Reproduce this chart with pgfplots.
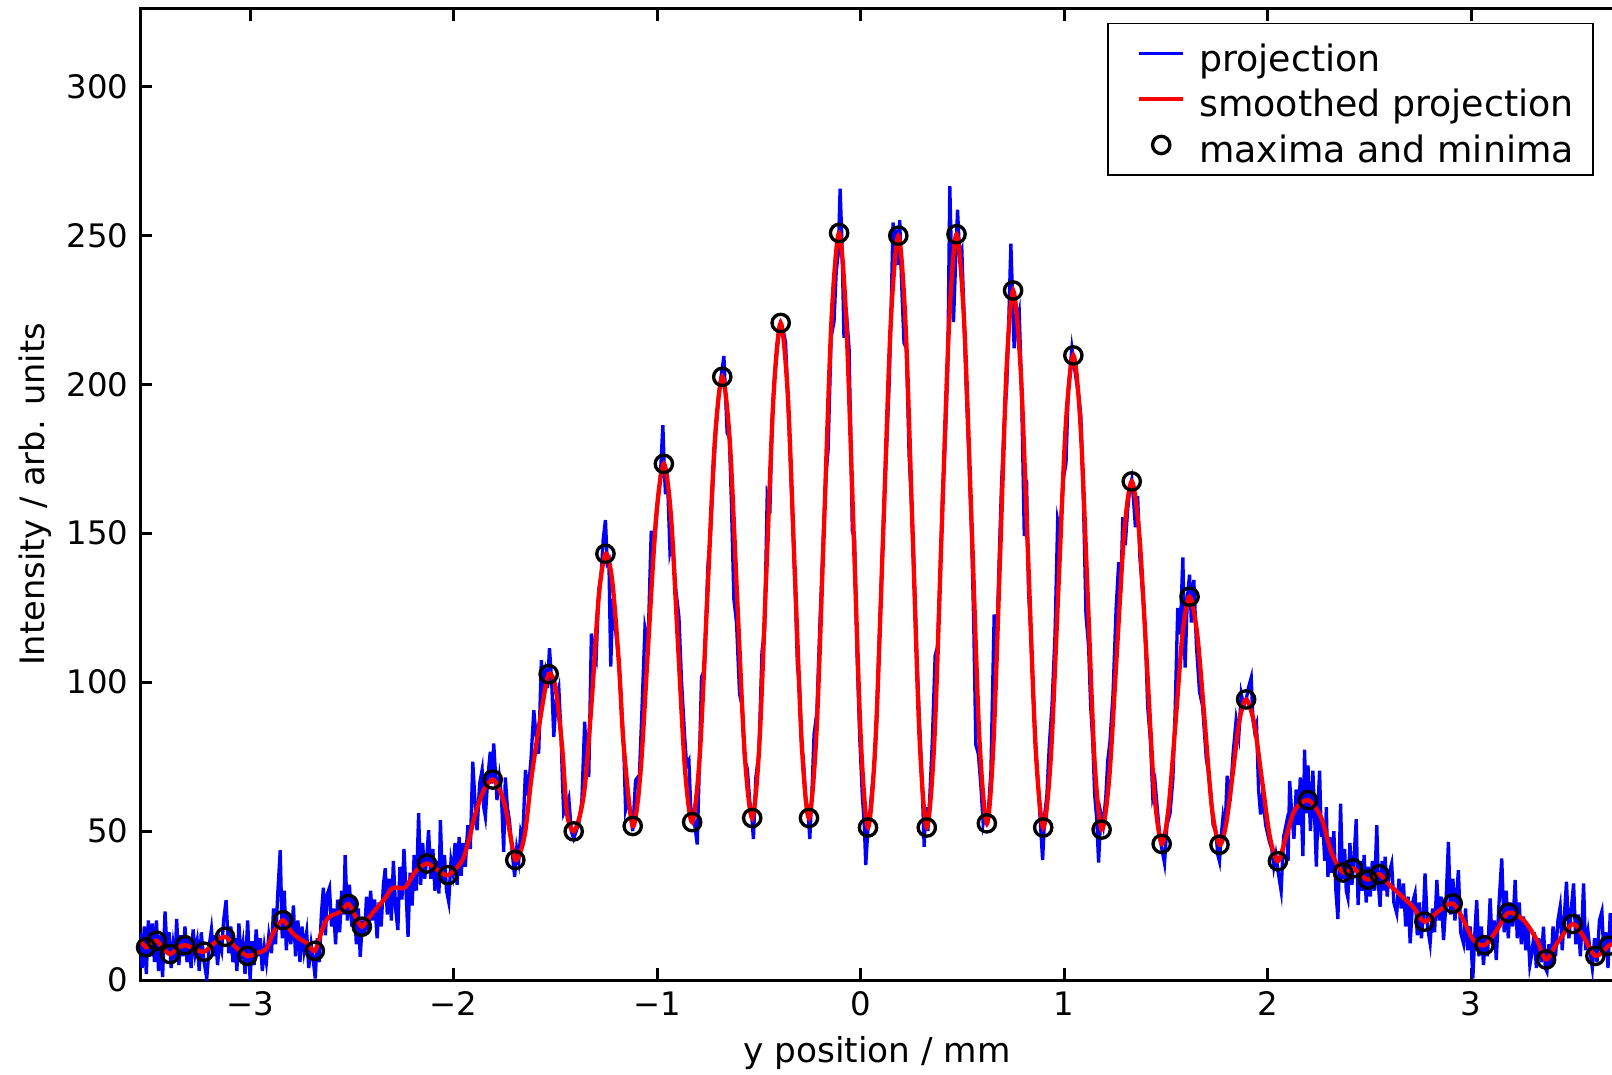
\documentclass[border=0pt]{standalone}
\usepackage{fontspec}
\setmainfont{DejaVu Sans}
\usepackage{pgfplots}
\pgfplotsset{compat=1.18}
\definecolor{mblue}{RGB}{0,0,255}
\definecolor{mred}{RGB}{255,0,0}
\begin{document}
\begin{tikzpicture}
\begin{axis}[
  scale only axis,
  width=442.1pt, height=291.3pt,
  xmin=-3.541, xmax=3.70, ymin=0, ymax=326,
  axis line style={line width=0.9pt},
  every tick/.style={line width=0.9pt, black},
  major tick length=3.6pt,
  tick align=inside,
  ytick pos=left,
  xtick={-3,-2,-1,0,1,2,3},
  xticklabels={−3,−2,−1,0,1,2,3},
  ytick={0,50,100,150,200,250,300},
  yticklabels={0,50,100,150,200,250,300},
  tick label style={font=\fontsize{9.7pt}{11pt}\selectfont},
  xlabel={y position / mm},
  ylabel={Intensity / arb. units},
  xlabel style={at={([yshift=-21.9pt]axis description cs:0.5,0)}, anchor=center, font=\fontsize{10.3pt}{12pt}\selectfont},
  ylabel style={at={([xshift=-31.5pt]axis description cs:0,0.5)}, anchor=center, font=\fontsize{10.1pt}{12pt}\selectfont},
  legend style={at={(rel axis cs:1,1)}, anchor=north east, xshift=-6pt, yshift=-4.1pt,
    draw=black, line width=0.5pt, inner xsep=5.7pt, inner ysep=2.2pt,
    font=\fontsize{10.9pt}{12pt}\selectfont, cells={anchor=west},
    nodes={inner xsep=0pt, inner ysep=1.6pt, text height=10.5pt, text depth=0pt}},
  legend image code/.code={\path[draw=none] (0pt,0pt) -- (21.75pt,0pt); \draw[#1] (3.55pt,0pt) -- (16.8pt,0pt);},
]
\addplot[mblue, line width=1.0pt] table[row sep=\\] {x y\\
-3.541 16\\ -3.530 4\\ -3.520 18\\ -3.510 2\\ -3.500 20\\ -3.490 8\\ -3.480 19\\ -3.470 6\\ -3.460 20\\ -3.450 3\\
-3.440 15\\ -3.430 1\\ -3.418 23\\ -3.408 10\\ -3.398 16\\ -3.388 4\\ -3.378 12\\ -3.368 7\\ -3.361 20.5\\ -3.350 5\\
-3.340 15\\ -3.330 8\\ -3.320 18\\ -3.310 6\\ -3.300 14\\ -3.290 4\\ -3.280 17\\ -3.270 9\\ -3.260 13\\ -3.250 3\\
-3.240 16\\ -3.228 7\\ -3.213 0.5\\ -3.200 12\\ -3.190 17\\ -3.180 8\\ -3.170 15\\ -3.160 5\\ -3.150 13\\ -3.140 10\\
-3.130 20\\ -3.118 26.8\\ -3.105 9\\ -3.095 18\\ -3.085 6\\ -3.075 14\\ -3.065 3\\ -3.055 19\\ -3.045 7\\ -3.035 12\\
-3.025 2\\ -3.012 20\\ -3.000 0\\ -2.990 13\\ -2.980 5\\ -2.970 17\\ -2.960 8\\ -2.950 14\\ -2.940 3\\ -2.930 11\\
-2.920 6\\ -2.908 15\\ -2.895 9\\ -2.885 24\\ -2.875 12\\ -2.865 28\\ -2.852 43.6\\ -2.842 14\\ -2.832 30\\ -2.822 10\\
-2.812 22\\ -2.800 12\\ -2.787 25\\ -2.777 8\\ -2.765 20\\ -2.755 6\\ -2.745 18\\ -2.735 10\\ -2.722 16\\ -2.712 4\\
-2.700 12\\ -2.690 7\\ -2.680 0.5\\ -2.670 14\\ -2.660 6\\ -2.650 22\\ -2.640 31\\ -2.630 15\\ -2.620 29\\ -2.610 31\\
-2.600 18\\ -2.590 24\\ -2.580 12\\ -2.570 27\\ -2.560 16\\ -2.550 30\\ -2.540 22\\ -2.533 41.9\\ -2.522 20\\ -2.512 32\\
-2.500 18\\ -2.490 28\\ -2.478 12\\ -2.468 24\\ -2.459 7.8\\ -2.448 20\\ -2.438 15\\ -2.428 28\\ -2.418 16\\ -2.408 30\\
-2.398 20\\ -2.388 27\\ -2.376 14\\ -2.366 26\\ -2.356 18\\ -2.345 32\\ -2.336 37.5\\ -2.326 22\\ -2.316 34\\ -2.306 20\\
-2.296 40\\ -2.285 24\\ -2.274 16.8\\ -2.264 38\\ -2.254 27\\ -2.244 44\\ -2.234 30\\ -2.224 14.5\\ -2.214 36\\ -2.204 25\\
-2.194 42\\ -2.183 30\\ -2.172 56\\ -2.162 32\\ -2.152 46\\ -2.142 34\\ -2.132 41\\ -2.123 50.3\\ -2.112 34\\ -2.102 44\\
-2.092 30\\ -2.082 40\\ -2.072 29\\ -2.065 53.7\\ -2.055 33\\ -2.045 42\\ -2.035 30\\ -2.024 26.2\\ -2.013 40\\ -2.003 36\\
-1.993 46\\ -1.983 32\\ -1.973 48\\ -1.963 35\\ -1.953 46\\ -1.943 38\\ -1.930 52\\ -1.918 44\\ -1.906 73.3\\ -1.895 60\\
-1.885 50.3\\ -1.872 66\\ -1.860 70.5\\ -1.852 58\\ -1.844 54.8\\ -1.832 68\\ -1.820 76.6\\ -1.812 66\\ -1.803 79.4\\ -1.795 70\\
-1.787 60.4\\ -1.775 68\\ -1.765 62\\ -1.754 43\\ -1.746 68\\ -1.736 58\\ -1.726 53.7\\ -1.716 46\\ -1.708 40\\ -1.700 34.6\\
-1.690 44\\ -1.680 40\\ -1.670 50\\ -1.660 48\\ -1.647 70.5\\ -1.635 62\\ -1.620 74\\ -1.606 90.6\\ -1.595 82\\ -1.582 76\\
-1.569 107.4\\ -1.559 98\\ -1.549 103\\ -1.539 98\\ -1.529 111.4\\ -1.518 100\\ -1.508 81.6\\ -1.496 94\\ -1.483 97.9\\ -1.472 82\\
-1.465 66\\ -1.459 56\\ -1.447 58\\ -1.434 61\\ -1.422 50\\ -1.410 47.5\\ -1.398 50\\ -1.385 52.5\\ -1.370 60\\ -1.356 86.7\\
-1.346 72\\ -1.336 68.2\\ -1.323 116.3\\ -1.312 110\\ -1.300 107.4\\ -1.287 130.8\\ -1.275 136\\ -1.265 148\\ -1.254 154.4\\ -1.245 140\\
-1.237 141\\ -1.228 105.2\\ -1.218 128\\ -1.205 118\\ -1.188 107.4\\ -1.172 88\\ -1.164 78\\ -1.155 57\\ -1.143 60\\ -1.131 56\\
-1.120 50\\ -1.106 67\\ -1.101 67.5\\ -1.090 64\\ -1.075 90\\ -1.060 118\\ -1.045 112\\ -1.029 150.8\\ -1.015 145\\ -1.000 158\\
-0.985 168\\ -0.972 186.3\\ -0.965 172\\ -0.959 163.1\\ -0.950 170\\ -0.937 143.9\\ -0.925 148\\ -0.910 132\\ -0.893 122\\ -0.880 100\\
-0.865 82\\ -0.855 72\\ -0.844 73.6\\ -0.835 58\\ -0.825 56\\ -0.815 52\\ -0.803 45.5\\ -0.795 66\\ -0.782 101.7\\ -0.768 104\\
-0.751 138.5\\ -0.738 150\\ -0.725 168\\ -0.712 184\\ -0.698 196\\ -0.685 203\\ -0.672 209.5\\ -0.665 198\\ -0.656 183.7\\ -0.645 182\\
-0.635 160\\ -0.623 127.9\\ -0.610 120\\ -0.595 96\\ -0.582 92\\ -0.570 74\\ -0.557 70.9\\ -0.545 60\\ -0.535 55\\ -0.527 47.3\\
-0.515 68\\ -0.500 76\\ -0.485 110\\ -0.472 118\\ -0.459 163.1\\ -0.445 160\\ -0.435 188\\ -0.423 202.5\\ -0.410 212\\ -0.395 220\\
-0.380 218\\ -0.369 214\\ -0.358 196\\ -0.346 176\\ -0.336 157.8\\ -0.322 132\\ -0.311 106.1\\ -0.300 98\\ -0.290 78\\ -0.282 74.5\\
-0.270 60\\ -0.260 58\\ -0.250 47.3\\ -0.240 62\\ -0.229 82.4\\ -0.215 90\\ -0.200 120\\ -0.183 149\\ -0.170 170\\ -0.160 178\\
-0.145 216\\ -0.131 220.9\\ -0.120 238\\ -0.110 244\\ -0.101 265.7\\ -0.092 248\\ -0.082 215.6\\ -0.070 224\\ -0.057 212.1\\ -0.048 180\\
-0.041 150.8\\ -0.030 148\\ -0.018 110\\ -0.005 82\\ 0.008 62\\ 0.018 52\\ 0.025 38.6\\ 0.035 50\\ 0.045 56\\ 0.055 64\\
0.067 72\\ 0.079 87.7\\ 0.090 112\\ 0.102 134\\ 0.115 160\\ 0.128 180\\ 0.140 200\\ 0.150 226\\ 0.159 254.3\\ 0.168 246\\
0.175 252\\ 0.183 240\\ 0.192 255.1\\ 0.200 236\\ 0.213 213.9\\ 0.225 212\\ 0.238 176\\ 0.250 160\\ 0.262 138\\ 0.275 110\\
0.288 88\\ 0.300 70\\ 0.312 44.7\\ 0.320 58\\ 0.330 50\\ 0.340 62\\ 0.352 80\\ 0.366 108.9\\ 0.378 112\\ 0.390 134\\
0.402 162\\ 0.415 180\\ 0.428 206\\ 0.438 266.5\\ 0.447 240\\ 0.456 220.9\\ 0.466 240\\ 0.476 258.6\\ 0.486 244\\ 0.497 245.5\\
0.508 222\\ 0.520 196\\ 0.532 176\\ 0.545 150\\ 0.556 118\\ 0.566 78.9\\ 0.578 76\\ 0.590 66\\ 0.602 52.6\\ 0.612 56\\
0.625 54\\ 0.640 70\\ 0.656 122.7\\ 0.668 110\\ 0.680 140\\ 0.692 166\\ 0.705 186\\ 0.718 200\\ 0.728 222\\ 0.738 247.2\\
0.746 230\\ 0.754 212.1\\ 0.765 220\\ 0.779 224.4\\ 0.790 200\\ 0.804 149\\ 0.815 168\\ 0.825 130\\ 0.835 118\\ 0.845 101.7\\
0.858 80\\ 0.870 68\\ 0.882 54\\ 0.894 40.3\\ 0.905 56\\ 0.915 62\\ 0.927 78.9\\ 0.940 92\\ 0.955 116\\ 0.968 154.3\\
0.980 150\\ 0.995 168\\ 1.009 173.6\\ 1.020 198\\ 1.030 206\\ 1.038 212.1\\ 1.050 206\\ 1.062 200\\ 1.072 196\\ 1.082 189.3\\
1.095 160\\ 1.107 122.7\\ 1.120 112\\ 1.130 92\\ 1.140 80.6\\ 1.150 62\\ 1.160 54\\ 1.169 39.4\\ 1.180 56\\ 1.192 52\\
1.205 62\\ 1.214 73.6\\ 1.225 80\\ 1.240 96\\ 1.255 124.5\\ 1.268 140.3\\ 1.278 130\\ 1.288 155.4\\ 1.300 146\\ 1.312 158\\
1.322 165\\ 1.332 168\\ 1.342 160\\ 1.350 152\\ 1.361 162.4\\ 1.372 142\\ 1.385 130\\ 1.398 118\\ 1.410 92\\ 1.424 80.3\\
1.435 62\\ 1.447 66\\ 1.460 55.6\\ 1.470 48\\ 1.480 44\\ 1.493 39.2\\ 1.505 52\\ 1.520 56\\ 1.534 67.4\\ 1.545 90\\
1.558 124.9\\ 1.570 116\\ 1.583 141.9\\ 1.594 104.9\\ 1.605 128\\ 1.616 136.1\\ 1.625 120\\ 1.637 134.3\\ 1.650 112\\ 1.665 96.7\\
1.680 92\\ 1.698 74.5\\ 1.708 70\\ 1.719 63.9\\ 1.732 52\\ 1.745 50\\ 1.755 42\\ 1.763 39.8\\ 1.771 48\\ 1.780 54.5\\
1.790 50\\ 1.801 68.6\\ 1.815 60\\ 1.830 76\\ 1.845 87.4\\ 1.858 82\\ 1.870 96\\ 1.882 92\\ 1.894 94\\ 1.905 98\\
1.919 101.5\\ 1.927 88\\ 1.935 83.9\\ 1.945 86\\ 1.955 64\\ 1.965 55.6\\ 1.975 62\\ 1.990 52\\ 2.009 46.3\\ 2.020 44\\
2.030 38\\ 2.040 42\\ 2.052 36\\ 2.066 29.9\\ 2.078 48\\ 2.090 52\\ 2.100 40\\ 2.108 66.8\\ 2.118 56\\ 2.129 47.4\\
2.140 64\\ 2.150 52\\ 2.160 68\\ 2.173 41.6\\ 2.181 77.3\\ 2.190 56\\ 2.198 72\\ 2.210 50\\ 2.222 70.3\\ 2.232 52\\
2.239 38.1\\ 2.248 60\\ 2.255 70.3\\ 2.263 48\\ 2.271 52.2\\ 2.280 40\\ 2.288 58\\ 2.296 34.6\\ 2.305 48\\ 2.315 36\\
2.325 50\\ 2.335 30\\ 2.345 20.5\\ 2.358 59.2\\ 2.368 34\\ 2.378 44\\ 2.386 30\\ 2.394 27.6\\ 2.404 46\\ 2.414 32\\
2.425 42\\ 2.435 54\\ 2.444 25.2\\ 2.454 40\\ 2.464 30\\ 2.474 42\\ 2.484 26\\ 2.494 38\\ 2.504 28\\ 2.514 40\\
2.525 30\\ 2.536 52\\ 2.544 32\\ 2.552 24.6\\ 2.562 40\\ 2.570 30\\ 2.577 41.4\\ 2.587 28\\ 2.597 36\\ 2.609 39.1\\
2.620 26\\ 2.634 22.4\\ 2.645 34\\ 2.656 24\\ 2.667 32.4\\ 2.678 18\\ 2.690 28\\ 2.700 12.3\\ 2.712 26\\ 2.724 29.1\\
2.735 15\\ 2.745 26\\ 2.755 14\\ 2.765 22\\ 2.773 35.8\\ 2.785 18\\ 2.798 12.3\\ 2.810 24\\ 2.820 16\\ 2.831 33.6\\
2.842 20\\ 2.853 28\\ 2.864 13.4\\ 2.876 26\\ 2.888 46.4\\ 2.898 22\\ 2.910 34\\ 2.920 20\\ 2.930 30\\ 2.937 36.9\\
2.948 16\\ 2.962 12.3\\ 2.972 24\\ 2.982 10\\ 2.995 18\\ 3.008 0.6\\ 3.018 16\\ 3.027 26.8\\ 3.038 8\\ 3.050 18\\
3.060 5\\ 3.070 14\\ 3.080 8\\ 3.093 27.4\\ 3.103 12\\ 3.113 20\\ 3.123 6.7\\ 3.135 24\\ 3.150 40.8\\ 3.162 16\\
3.172 30\\ 3.182 14\\ 3.192 26\\ 3.204 18\\ 3.216 33.6\\ 3.226 14\\ 3.236 26\\ 3.246 12\\ 3.257 21.3\\ 3.268 10\\
3.278 18\\ 3.288 5\\ 3.298 9\\ 3.310 16\\ 3.320 4\\ 3.332 14\\ 3.344 6\\ 3.355 17.9\\ 3.364 4\\ 3.372 2.8\\
3.382 12\\ 3.392 5\\ 3.402 18\\ 3.414 8\\ 3.426 20\\ 3.437 24.6\\ 3.447 10\\ 3.458 22\\ 3.468 33\\ 3.480 14\\
3.492 24\\ 3.503 32.4\\ 3.514 12\\ 3.525 22\\ 3.536 8\\ 3.545 20\\ 3.552 32.4\\ 3.562 10\\ 3.574 16\\ 3.585 9\\
3.595 4\\ 3.606 14\\ 3.618 6\\ 3.630 20\\ 3.642 23\\ 3.652 8\\ 3.662 16\\ 3.672 4\\ 3.683 22.4\\ 3.692 12\\ 3.700 18\\
};
\addlegendentry{projection}
\addplot[mred, line width=1.3pt, smooth] table[row sep=\\] {x y\\
-3.541 13.5\\ -3.511 11.0\\ -3.485 12.5\\ -3.459 13.2\\ -3.425 10.5\\ -3.393 8.7\\ -3.355 10.8\\ -3.320 11.7\\ -3.275 10.5\\ -3.226 9.5\\
-3.175 12.5\\ -3.123 14.5\\ -3.070 11.0\\ -3.013 8.1\\ -2.960 9.2\\ -2.920 10.5\\ -2.885 16.0\\ -2.839 20.1\\ -2.795 16.0\\ -2.750 13.5\\
-2.721 12.4\\ -2.682 9.8\\ -2.645 17.0\\ -2.615 21.0\\ -2.557 22.9\\ -2.516 25.5\\ -2.480 21.0\\ -2.451 17.9\\ -2.420 20.5\\ -2.393 22.9\\
-2.336 27.5\\ -2.311 30.2\\ -2.287 31.1\\ -2.238 31.1\\ -2.188 36.4\\ -2.131 39.1\\ -2.080 37.0\\ -2.028 35.2\\ -1.959 40.0\\ -1.925 47.0\\
-1.893 55.9\\ -1.850 64.0\\ -1.808 67.3\\ -1.775 64.0\\ -1.746 58.1\\ -1.720 48.0\\ -1.697 40.3\\ -1.672 43.0\\ -1.647 50.3\\ -1.615 69.3\\
-1.565 91.7\\ -1.533 102.7\\ -1.500 98.4\\ -1.467 78.3\\ -1.443 56.0\\ -1.410 49.9\\ -1.377 56.0\\ -1.352 67.1\\ -1.320 95.2\\ -1.287 128.6\\
-1.254 143.1\\ -1.221 134.2\\ -1.188 106.3\\ -1.164 78.3\\ -1.120 51.7\\ -1.082 69.5\\ -1.044 112.5\\ -1.005 155.5\\ -0.967 173.3\\ -0.932 155.7\\
-0.898 113.2\\ -0.863 70.6\\ -0.828 53.0\\ -0.791 74.9\\ -0.754 127.8\\ -0.717 180.6\\ -0.680 202.5\\ -0.643 180.8\\ -0.607 128.5\\ -0.570 76.1\\
-0.533 54.4\\ -0.498 78.7\\ -0.463 137.5\\ -0.428 196.3\\ -0.393 220.6\\ -0.358 196.3\\ -0.324 137.5\\ -0.289 78.7\\ -0.254 54.4\\ -0.217 83.2\\
-0.180 152.6\\ -0.143 222.0\\ -0.106 250.8\\ -0.071 221.6\\ -0.035 151.0\\ 0.001 80.4\\ 0.036 51.2\\ 0.073 80.3\\ 0.111 150.6\\ 0.148 220.8\\
0.185 249.9\\ 0.220 220.8\\ 0.255 150.6\\ 0.290 80.3\\ 0.325 51.2\\ 0.362 80.4\\ 0.398 150.8\\ 0.435 221.2\\ 0.471 250.4\\ 0.508 221.4\\
0.546 151.5\\ 0.583 81.6\\ 0.620 52.6\\ 0.652 78.8\\ 0.685 142.1\\ 0.717 205.3\\ 0.749 231.5\\ 0.786 205.1\\ 0.823 141.4\\ 0.860 77.6\\
0.897 51.2\\ 0.934 74.4\\ 0.971 130.5\\ 1.008 186.5\\ 1.045 209.7\\ 1.080 186.4\\ 1.115 130.1\\ 1.149 73.8\\ 1.184 50.5\\ 1.221 67.6\\
1.258 109.0\\ 1.295 150.3\\ 1.332 167.4\\ 1.369 149.6\\ 1.406 106.6\\ 1.442 63.5\\ 1.479 45.7\\ 1.513 57.9\\ 1.548 87.2\\ 1.582 116.5\\
1.616 128.7\\ 1.653 116.5\\ 1.690 87.1\\ 1.726 57.6\\ 1.763 45.4\\ 1.796 52.5\\ 1.829 69.8\\ 1.861 87.1\\ 1.894 94.2\\ 1.933 86.3\\
1.972 67.1\\ 2.011 47.9\\ 2.050 39.9\\ 2.090 48.0\\ 2.132 56.9\\ 2.198 60.4\\ 2.263 54.5\\ 2.313 42.8\\ 2.370 36.1\\ 2.419 37.5\\
2.455 35.5\\ 2.493 33.7\\ 2.549 35.5\\ 2.590 32.5\\ 2.634 29.7\\ 2.716 24.4\\ 2.770 19.6\\ 2.847 23.5\\ 2.909 25.7\\ 2.962 20.1\\
3.011 13.4\\ 3.065 11.7\\ 3.126 16.8\\ 3.183 22.6\\ 3.257 20.1\\ 3.323 13.4\\ 3.368 6.9\\ 3.421 12.3\\ 3.498 18.8\\ 3.552 14.5\\
3.610 8.1\\ 3.675 11.5\\ 3.700 12.3\\
};
\addlegendentry{smoothed projection}
\addplot[only marks, mark=o, mark size=2.6pt, mark options={line width=1.0pt, black},
  legend image code/.code={\path[draw=none] (0pt,0pt) -- (21.75pt,0pt); \draw[black, line width=1.0pt] (10.35pt,0pt) circle[radius=2.6pt];}]
 table[row sep=\\] {x y\\
-3.511 11.0\\ -3.459 13.2\\ -3.393 8.7\\ -3.320 11.7\\ -3.226 9.5\\ -3.123 14.5\\ -3.013 8.1\\ -2.839 20.1\\ -2.682 9.8\\ -2.516 25.5\\
-2.451 17.9\\ -2.131 39.1\\ -2.028 35.2\\ -1.808 67.3\\ -1.697 40.3\\ -1.533 102.7\\ -1.410 49.9\\ -1.254 143.1\\ -1.120 51.7\\ -0.967 173.3\\
-0.828 53.0\\ -0.680 202.5\\ -0.533 54.4\\ -0.393 220.6\\ -0.254 54.4\\ -0.106 250.8\\ 0.036 51.2\\ 0.185 249.9\\ 0.325 51.2\\ 0.471 250.4\\
0.620 52.6\\ 0.749 231.5\\ 0.897 51.2\\ 1.045 209.7\\ 1.184 50.5\\ 1.332 167.4\\ 1.479 45.7\\ 1.616 128.7\\ 1.763 45.4\\ 1.894 94.2\\
2.050 39.9\\ 2.198 60.4\\ 2.370 36.1\\ 2.419 37.5\\ 2.493 33.7\\ 2.549 35.5\\ 2.770 19.6\\ 2.909 25.7\\ 3.065 11.7\\ 3.183 22.6\\
3.368 6.9\\ 3.498 18.8\\ 3.610 8.1\\ 3.675 11.5\\
};
\addlegendentry{maxima and minima}
\end{axis}
\pgfresetboundingbox
\path[use as bounding box] ([xshift=-42pt,yshift=-28.2pt]current axis.south west) rectangle ([xshift=-0.5pt,yshift=2.7pt]current axis.north east);
\end{tikzpicture}
\end{document}
